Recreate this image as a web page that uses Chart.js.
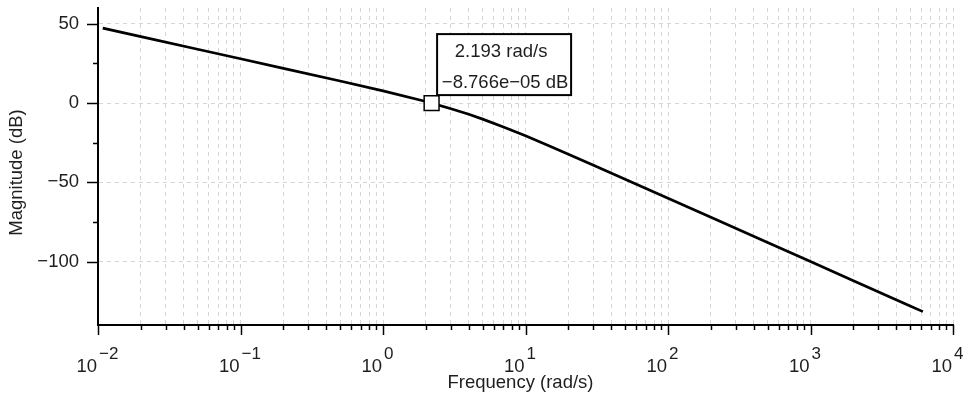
<!DOCTYPE html>
<html>
<head>
<meta charset="utf-8">
<script src="https://cdn.jsdelivr.net/npm/chart.js@4.4.1/dist/chart.umd.min.js"></script>
<style>
  html, body { margin: 0; padding: 0; background: #fff; }
  #wrap { width: 965px; height: 399px; position: relative; }
</style>
</head>
<body>
<div id="wrap"><canvas id="bode"></canvas></div>
<script>
// magnitude curve (rad/s, dB)
const freqs = [0.0108, 0.02, 0.05, 0.1, 0.2, 0.5, 1, 2, 2.193, 3, 4, 5, 7, 10, 15, 20, 30, 50, 100, 200, 500, 1000, 2000, 5000, 6150];
const magsDb = [47.3, 41.9, 34.0, 27.96, 21.93, 13.91, 7.70, 0.97, 0.0, -3.52, -7.09, -10.11, -15.03, -20.64, -27.34, -32.21, -39.16, -47.99, -60.01, -72.04, -87.96, -100.0, -112.04, -127.96, -131.56];

// axes
const xDecades = [-2, -1, 0, 1, 2, 3, 4];
const yTicks = [-100, -75, -50, -25, 0, 25, 50];
const yLabelTicks = [-100, -50, 0, 50];

// data tip
const markerFreq = 2.193;
const markerMag = -8.766e-05;
const markerLines = ['2.193 rad/s', '\u22128.766e\u221205 dB'];

const FONT = '"Liberation Sans", Arial, sans-serif';
const TEXT = '#1e1e1e';

// minor + major log ticks
const xTickValues = [];
xDecades.forEach((d, i) => {
    if (i === xDecades.length - 1) {
        xTickValues.push(Math.pow(10, d));
        return;
    }
    for (let m = 1; m <= 9; m++) xTickValues.push(Number((m * Math.pow(10, d)).toPrecision(12)));
});

const isDecade = v => xDecades.some(d => Math.abs(Math.log10(v) - d) < 1e-9);
const minus = s => String(s).replace('-', '\u2212');

const bodePlugin = {
    id: 'bode',
    afterDraw(chart) {
        const { ctx, chartArea: a, scales: { x, y } } = chart;
        ctx.save();

        // tick marks
        ctx.strokeStyle = '#000';
        ctx.lineWidth = 1.5;
        x.ticks.forEach(t => {
            const px = Math.round(x.getPixelForValue(t.value)) + 0.5;
            const len = isDecade(t.value) ? 10 : 5;
            ctx.beginPath();
            ctx.moveTo(px, a.bottom);
            ctx.lineTo(px, a.bottom + len);
            ctx.stroke();
        });
        y.ticks.forEach(t => {
            const py = Math.round(y.getPixelForValue(t.value)) + 0.5;
            const len = t.value % 50 === 0 ? 11 : 5;
            ctx.beginPath();
            ctx.moveTo(a.left, py);
            ctx.lineTo(a.left - len, py);
            ctx.stroke();
        });

        // x labels 10^n
        ctx.fillStyle = TEXT;
        ctx.textBaseline = 'alphabetic';
        xDecades.forEach(d => {
            const px = x.getPixelForValue(Math.pow(10, d));
            ctx.font = '18.5px ' + FONT;
            ctx.textAlign = 'right';
            ctx.fillText('10', px - 1, a.bottom + 47);
            ctx.font = '17px ' + FONT;
            ctx.textAlign = 'left';
            ctx.fillText(minus(d), px + 1, a.bottom + 34);
        });

        // axis titles
        ctx.font = '18.5px ' + FONT;
        ctx.textAlign = 'center';
        ctx.textBaseline = 'middle';
        ctx.fillText('Frequency (rad/s)', (a.left + a.right) / 2 - 5, a.bottom + 58);
        ctx.save();
        ctx.translate(17, (a.top + a.bottom) / 2 + 6);
        ctx.rotate(-Math.PI / 2);
        ctx.fillText('Magnitude (dB)', 0, 0);
        ctx.restore();

        // data tip box
        const mx = x.getPixelForValue(markerFreq);
        const my = y.getPixelForValue(markerMag);
        const bx = mx + 5.5, by = my - 69, bw = 134, bh = 61;
        ctx.fillStyle = '#fff';
        ctx.fillRect(bx, by, bw, bh);
        ctx.strokeStyle = '#000';
        ctx.lineWidth = 2;
        ctx.strokeRect(bx, by, bw, bh);
        ctx.fillStyle = TEXT;
        ctx.font = '18.5px ' + FONT;
        ctx.fillText(markerLines[0], bx + bw / 2 - 3, by + 18);
        ctx.fillText(markerLines[1], bx + bw / 2 + 1, by + 49);

        ctx.restore();
    }
};

new Chart(document.getElementById('bode'), {
    type: 'line',
    data: {
        datasets: [
            {
                data: [{ x: markerFreq, y: markerMag }],
                showLine: false,
                pointStyle: 'rect',
                pointRadius: 10.5,
                pointBackgroundColor: '#fff',
                pointBorderColor: '#000',
                pointBorderWidth: 1.5
            },
            {
                data: freqs.map((f, i) => ({ x: f, y: magsDb[i] })),
                borderColor: '#000',
                borderWidth: 2.7,
                pointRadius: 0,
                tension: 0,
                fill: false
            }
        ]
    },
    options: {
        responsive: true,
        maintainAspectRatio: false,
        animation: false,
        layout: { autoPadding: false, padding: { top: 8, right: 12, left: 0, bottom: 0 } },
        plugins: {
            legend: { display: false },
            tooltip: { enabled: false }
        },
        scales: {
            x: {
                type: 'logarithmic',
                min: 0.01,
                max: 10000,
                afterBuildTicks: s => { s.ticks = xTickValues.map(v => ({ value: v })); },
                afterFit: s => { s.height = 74; s.paddingLeft = 0; s.paddingRight = 0; },
                ticks: { display: false },
                grid: { color: '#d6d6d6', lineWidth: 1, drawTicks: false },
                border: { display: true, color: '#000', width: 2, dash: [4, 4] }
            },
            y: {
                type: 'linear',
                min: -140,
                max: 60,
                afterBuildTicks: s => { s.ticks = yTicks.map(v => ({ value: v })); },
                afterFit: s => { s.width = 98; s.paddingTop = 0; s.paddingBottom = 0; },
                ticks: {
                    autoSkip: false,
                    padding: 19,
                    color: TEXT,
                    font: { family: FONT, size: 18.5 },
                    callback: v => yLabelTicks.includes(v) ? minus(v) : ''
                },
                grid: {
                    color: c => (c.tick && c.tick.value % 50 === 0) ? '#d6d6d6' : 'rgba(0,0,0,0)',
                    lineWidth: 1,
                    drawTicks: false
                },
                border: { display: true, color: '#000', width: 2, dash: [4, 4] }
            }
        }
    },
    plugins: [bodePlugin]
});
</script>
</body>
</html>
